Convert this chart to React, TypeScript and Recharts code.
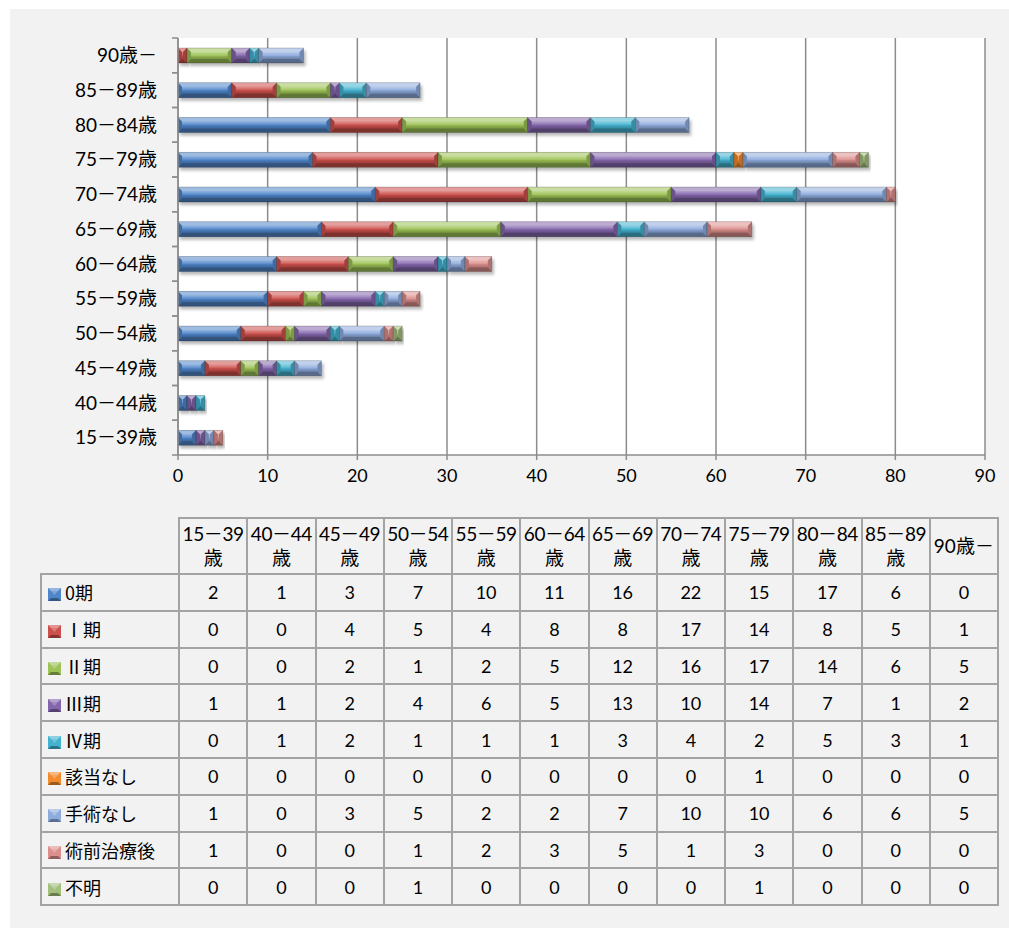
import React from 'react'
import { BarChart, Bar, XAxis, YAxis, CartesianGrid } from 'recharts'

const categories = ['15－39歳', '40－44歳', '45－49歳', '50－54歳', '55－59歳', '60－64歳', '65－69歳', '70－74歳', '75－79歳', '80－84歳', '85－89歳', '90歳－']

const stage0 = [2, 1, 3, 7, 10, 11, 16, 22, 15, 17, 6, 0]
const stage1 = [0, 0, 4, 5, 4, 8, 8, 17, 14, 8, 5, 1]
const stage2 = [0, 0, 2, 1, 2, 5, 12, 16, 17, 14, 6, 5]
const stage3 = [1, 1, 2, 4, 6, 5, 13, 10, 14, 7, 1, 2]
const stage4 = [0, 1, 2, 1, 1, 1, 3, 4, 2, 5, 3, 1]
const notApplicable = [0, 0, 0, 0, 0, 0, 0, 0, 1, 0, 0, 0]
const noSurgery = [1, 0, 3, 5, 2, 2, 7, 10, 10, 6, 6, 5]
const preopTreated = [1, 0, 0, 1, 2, 3, 5, 1, 3, 0, 0, 0]
const unknown = [0, 0, 0, 1, 0, 0, 0, 0, 1, 0, 0, 0]

const xTicks = [0, 10, 20, 30, 40, 50, 60, 70, 80, 90]

const series = [
  { key: 's0', name: '0期', values: stage0, color: '#4f85c9' },
  { key: 's1', name: 'Ⅰ期', values: stage1, color: '#cc4f4b' },
  { key: 's2', name: 'Ⅱ期', values: stage2, color: '#9dc255' },
  { key: 's3', name: 'Ⅲ期', values: stage3, color: '#8466ac' },
  { key: 's4', name: 'Ⅳ期', values: stage4, color: '#43b2cf' },
  { key: 's5', name: '該当なし', values: notApplicable, color: '#f28a2e' },
  { key: 's6', name: '手術なし', values: noSurgery, color: '#8eabdd' },
  { key: 's7', name: '術前治療後', values: preopTreated, color: '#dc8f8d' },
  { key: 's8', name: '不明', values: unknown, color: '#a3bf7c' },
]

const rows = categories.map((cat, i) => {
  const r: Record<string, string | number> = { cat }
  series.forEach(s => { r[s.key] = s.values[i] })
  return r
})

const FONT = 'Lato, "Noto Sans CJK JP", sans-serif'
const CJK = '"Noto Sans CJK JP", sans-serif'
const GRID = '#8c8c8c'

function Bevel(props: any) {
  const { x, y, width, height, color } = props
  if (!width || width <= 0) return null
  const b = Math.min(4, width / 2, height / 3)
  const x2 = x + width
  const y2 = y + height
  return (
    <g filter="url(#barShadow)">
      <rect x={x} y={y} width={width} height={height} fill={color} />
      <rect x={x + b} y={y + b} width={Math.max(0, width - 2 * b)} height={height - 2 * b} fill="url(#sheen)" />
      <polygon points={`${x},${y} ${x2},${y} ${x2 - b},${y + b} ${x + b},${y + b}`} fill="#fff" fillOpacity={0.45} />
      <polygon points={`${x},${y2} ${x2},${y2} ${x2 - b},${y2 - b} ${x + b},${y2 - b}`} fill="#000" fillOpacity={0.38} />
      <polygon points={`${x},${y} ${x + b},${y + b} ${x + b},${y2 - b} ${x},${y2}`} fill="#000" fillOpacity={0.2} />
      <polygon points={`${x2},${y} ${x2 - b},${y + b} ${x2 - b},${y2 - b} ${x2},${y2}`} fill="#000" fillOpacity={0.2} />
      <rect x={x} y={y} width={width} height={height} fill="none" stroke="#000" strokeOpacity={0.3} strokeWidth={0.6} />
    </g>
  )
}

function Key({ color }: { color: string }) {
  return (
    <svg width={13} height={13} style={{ verticalAlign: '-1px', marginRight: 4 }}>
      <rect x={0} y={0} width={13} height={13} fill={color} />
      <polygon points="0,0 13,0 10,3 3,3" fill="#fff" fillOpacity={0.4} />
      <polygon points="0,13 13,13 10,10 3,10" fill="#000" fillOpacity={0.35} />
      <polygon points="3,3 10,3 6.5,7" fill="#fff" fillOpacity={0.25} />
    </svg>
  )
}

function CatTick(props: any) {
  const { y, payload } = props
  const off = payload.offset || 17.4
  return (
    <g>
      <text x={157} y={y} dy="0.36em" textAnchor="end" fontSize={19} fontFamily={FONT} fill="#000">
        {payload.value}
      </text>
      <line x1={172} x2={178} y1={y - off} y2={y - off} stroke={GRID} strokeWidth={1.5} />
      <line x1={172} x2={178} y1={y + off} y2={y + off} stroke={GRID} strokeWidth={1.5} />
    </g>
  )
}

const cellBorder = '2px solid #a3a3a3'

export default function App() {
  return (
    <div style={{ position: 'absolute', left: 0, top: 0, width: 1009, height: 928, fontFamily: FONT }}>
      <div style={{ position: 'absolute', left: 10, top: 9, width: 999, height: 919, background: '#f2f2f2' }} />
      <div style={{ position: 'absolute', left: 178, top: 38, width: 807, height: 417, background: '#fff' }} />
      <div style={{ position: 'absolute', left: 0, top: 0 }}>
        <BarChart
          width={1009}
          height={500}
          data={rows}
          layout="vertical"
          barSize={15}
          margin={{ top: 38, right: 24, bottom: 15, left: 0 }}
        >
          <defs>
            <linearGradient id="sheen" x1="0" y1="0" x2="0" y2="1">
              <stop offset="0%" stopColor="#fff" stopOpacity={0.38} />
              <stop offset="50%" stopColor="#fff" stopOpacity={0.05} />
              <stop offset="55%" stopColor="#000" stopOpacity={0.05} />
              <stop offset="100%" stopColor="#000" stopOpacity={0.25} />
            </linearGradient>
            <filter id="barShadow" x="-10%" y="-30%" width="130%" height="190%">
              <feDropShadow dx={2} dy={3} stdDeviation={1.5} floodColor="#000" floodOpacity={0.28} />
            </filter>
          </defs>
          <CartesianGrid horizontal={false} stroke={GRID} strokeWidth={1.5} />
          <XAxis
            type="number"
            domain={[0, 90]}
            ticks={xTicks}
            interval={0}
            stroke={GRID}
            strokeWidth={1.5}
            tickSize={5}
            tickMargin={9}
            tick={{ fontSize: 18, fill: '#000', fontFamily: FONT }}
          />
          <YAxis
            type="category"
            dataKey="cat"
            reversed
            width={178}
            interval={0}
            tickLine={false}
            stroke={GRID}
            strokeWidth={1.5}
            tick={<CatTick />}
          />
          {series.map(s => (
            <Bar
              key={s.key}
              dataKey={s.key}
              name={s.name}
              stackId="a"
              fill={s.color}
              isAnimationActive={false}
              shape={(p: any) => <Bevel {...p} color={s.color} />}
            />
          ))}
        </BarChart>
      </div>
      <table
        style={{
          position: 'absolute',
          left: 40,
          top: 517,
          borderCollapse: 'collapse',
          tableLayout: 'fixed',
          width: 957,
          fontSize: 18,
          color: '#000',
        }}
      >
        <colgroup>
          <col style={{ width: 138 }} />
          {categories.map(c => <col key={c} style={{ width: 68.25 }} />)}
        </colgroup>
        <tbody>
          <tr style={{ height: 56 }}>
            <td style={{ border: 'none', borderRight: cellBorder }} />
            {categories.map(c => {
              const split = c.endsWith('歳') && c.includes('－')
              return (
                <td key={c} style={{ border: cellBorder, textAlign: 'center', padding: 0, lineHeight: '24px', whiteSpace: 'nowrap', overflow: 'hidden', fontSize: 19, letterSpacing: split ? -0.4 : 0 }}>
                  {split ? <>{c.slice(0, -1)}<br />{c.slice(-1)}</> : c}
                </td>
              )
            })}
          </tr>
          {series.map(s => (
            <tr key={s.key} style={{ height: 36.8 }}>
              <td style={{ border: cellBorder, padding: '0 0 0 6px', whiteSpace: 'nowrap', fontFamily: CJK, fontSize: 18 }}>
                <Key color={s.color} />
                {s.name}
              </td>
              {s.values.map((v, i) => (
                <td key={i} style={{ border: cellBorder, textAlign: 'center', padding: 0 }}>{v}</td>
              ))}
            </tr>
          ))}
        </tbody>
      </table>
    </div>
  )
}
